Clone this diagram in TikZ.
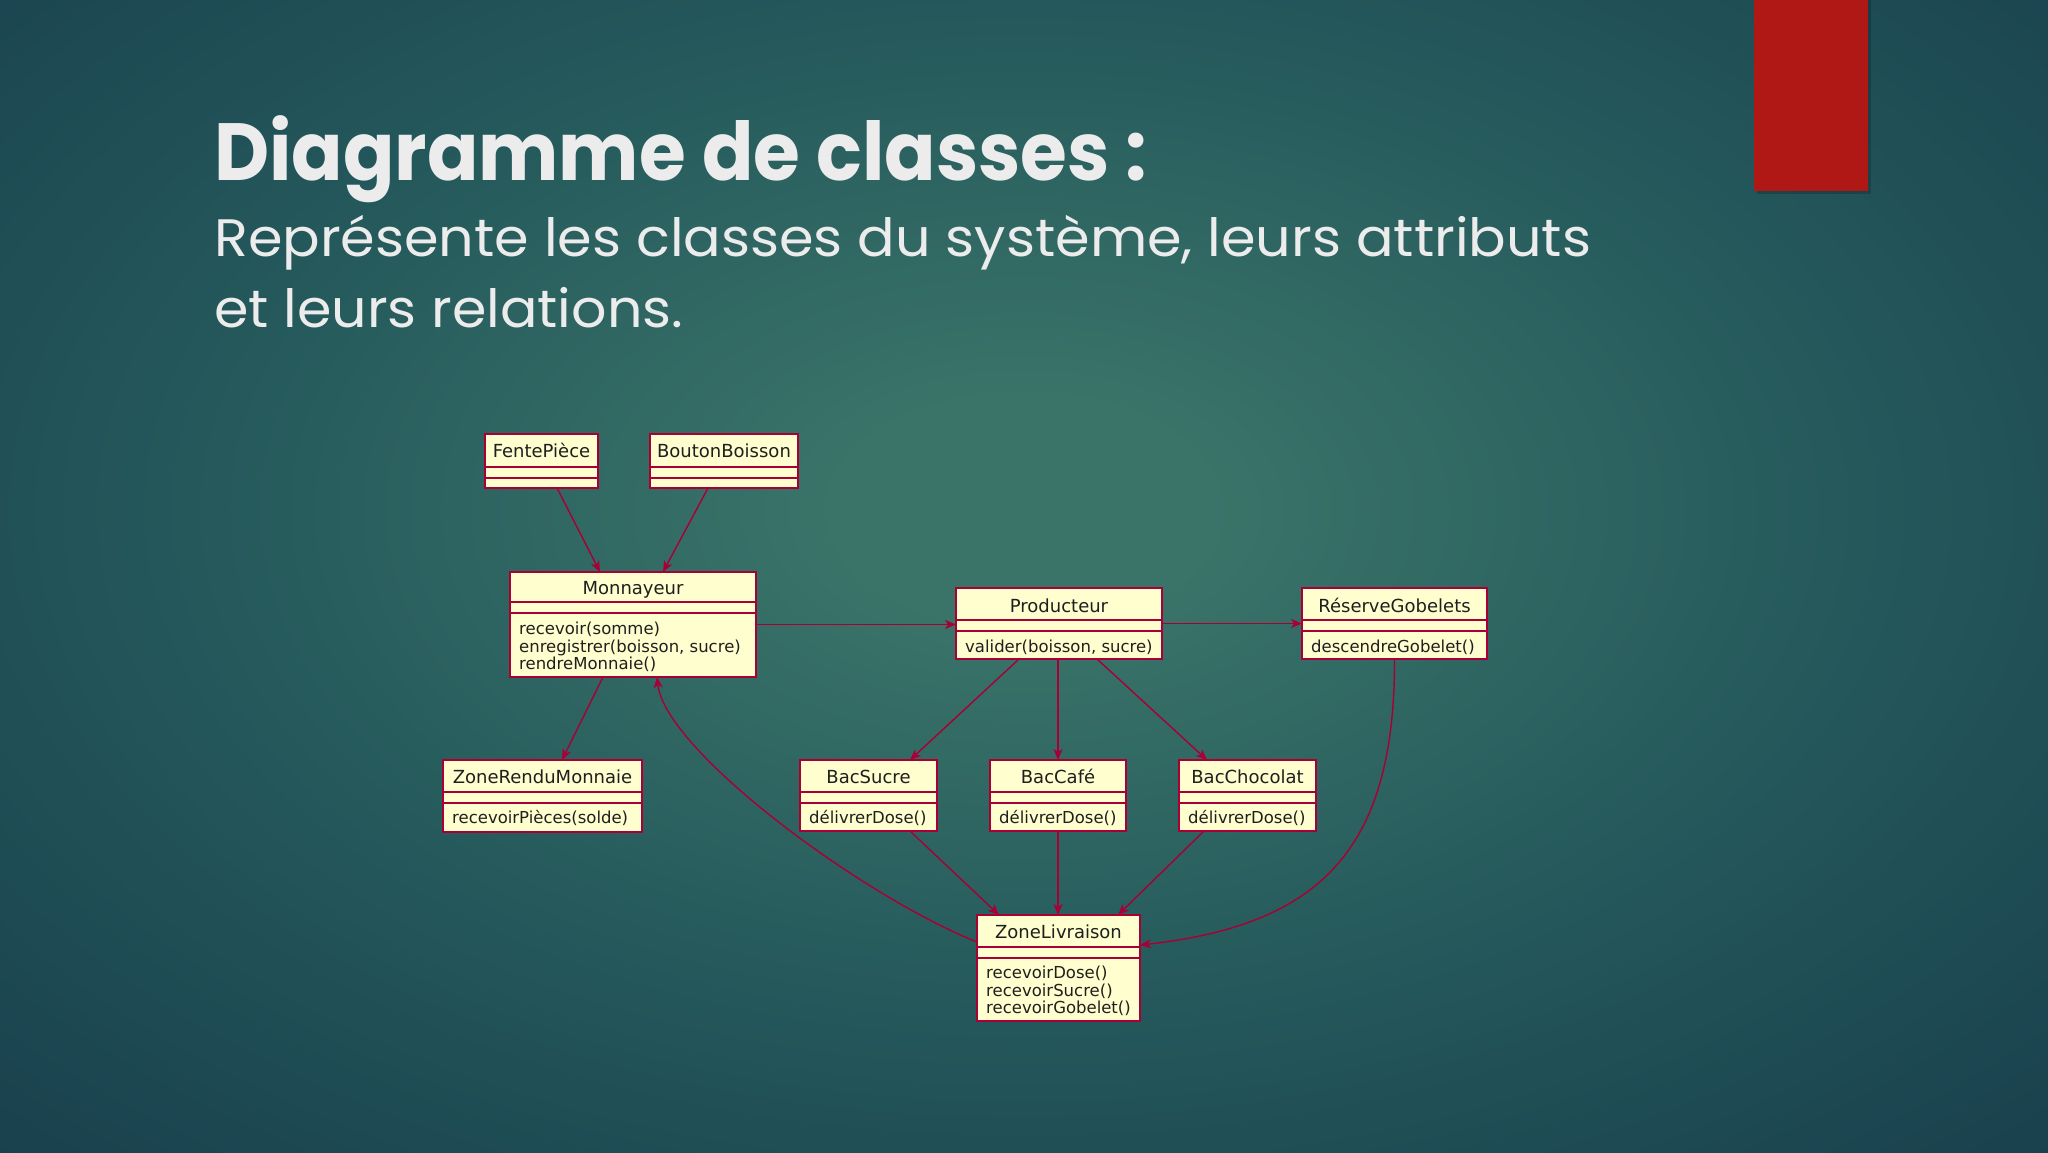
\documentclass[tikz,border=0pt]{standalone}
\usepackage{fontspec}
\usepackage{graphicx}
\usetikzlibrary{arrows.meta}
\newfontfamily\umlfont{DejaVu Sans}
\newfontfamily\slidefont{Poppins}
\definecolor{bgin}{RGB}{58,116,105}
\definecolor{bgmid}{RGB}{36,88,91}
\definecolor{bgout}{RGB}{24,62,76}
\definecolor{bgedge}{RGB}{20,54,68}
\definecolor{umlred}{HTML}{A80036}
\definecolor{umlfill}{HTML}{FEFECE}
\definecolor{slidered}{RGB}{176,24,22}
\definecolor{titlegray}{RGB}{236,236,236}
\pgfdeclareradialshading{slidebg}{\pgfpoint{0bp}{0bp}}{color(0bp)=(bgin); color(4bp)=(bgin); color(19bp)=(bgmid); color(35bp)=(bgout); color(50bp)=(bgedge)}
\newcommand{\umlclass}[8]{%
  \node[classbox, minimum width={(#4-#2)*1pt}, minimum height={(#5-#3)*1pt}] (#1) at ({(#2+#4)/2},{(#3+#5)/2}) {};
  \draw[sepline] (#2,#6) -- (#4,#6);
  \draw[sepline] (#2,#6+11) -- (#4,#6+11);
  \node[classname] (#1-name) at ({(#2+#4)/2},#7) {#8};
}
\begin{document}
\begin{tikzpicture}[x=1pt,y=-1pt,
  classbox/.style={draw=umlred, fill=umlfill, line width=1.4pt, inner sep=0pt, outer sep=0pt, rectangle},
  sepline/.style={draw=umlred, line width=1.4pt},
  classname/.style={anchor=base, inner sep=0pt, font=\umlfont\fontsize{18}{20}\selectfont, text=black!88},
  method/.style={anchor=base west, inner sep=0pt, font=\umlfont\fontsize{16.5}{18}\selectfont, text=black!88},
  assoc/.style={draw=umlred, line width=1.4pt, -{Stealth[length=11pt,width=9pt,inset=3pt]}},
  slidetext/.style={anchor=base west, inner sep=0pt, text=titlegray}]
\useasboundingbox (0,0) rectangle (2048,1152);
\shade[shading=slidebg] (-80,-150) rectangle (2128,1170);
% red tab
\fill[black,opacity=0.18] (1757,0) rectangle (1871,194);
\fill[slidered] (1754,0) rectangle (1868,191);
% titles
\node[slidetext] (title) at (214,180) {\resizebox{933pt}{60pt}{\slidefont\bfseries\fontsize{60}{70}\selectfont\smash{Diagramme de classes :}\vphantom{l}}};
\node[slidetext] (sub1) at (214,256) {\resizebox{1377pt}{39pt}{\slidefont\fontsize{48}{56}\selectfont\smash{Représente les classes du système, leurs attributs}\vphantom{l}}};
\node[slidetext] (sub2) at (214,327) {\resizebox{469pt}{39pt}{\slidefont\fontsize{48}{56}\selectfont\smash{et leurs relations.}\vphantom{l}}};
% classes
\umlclass{fente}{485}{434}{598}{488}{467}{457}{FentePièce}
\umlclass{bouton}{650}{434}{798}{488}{467}{457}{BoutonBoisson}
\umlclass{monn}{510}{572}{756}{677}{602}{594}{Monnayeur}
\node[method] (monn-m1) at (519,634) {recevoir(somme)};
\node[method] (monn-m2) at (519,652) {enregistrer(boisson, sucre)};
\node[method] (monn-m3) at (519,669) {rendreMonnaie()};
\umlclass{prod}{956}{588}{1162}{659}{620}{612}{Producteur}
\node[method] (prod-m1) at (965,652) {valider(boisson, sucre)};
\umlclass{res}{1302}{588}{1487}{659}{620}{612}{RéserveGobelets}
\node[method] (res-m1) at (1311,652) {descendreGobelet()};
\umlclass{zrm}{443}{760}{642}{832}{792}{783}{ZoneRenduMonnaie}
\node[method] (zrm-m1) at (452,823) {recevoirPièces(solde)};
\umlclass{bs}{800}{760}{937}{831}{792}{783}{BacSucre}
\node[method] (bs-m1) at (809,823) {délivrerDose()};
\umlclass{bc}{990}{760}{1126}{831}{792}{783}{BacCafé}
\node[method] (bc-m1) at (999,823) {délivrerDose()};
\umlclass{bch}{1179}{760}{1316}{831}{792}{783}{BacChocolat}
\node[method] (bch-m1) at (1188,823) {délivrerDose()};
\umlclass{zl}{977}{915}{1140}{1021}{947}{938}{ZoneLivraison}
\node[method] (zl-m1) at (986,978) {recevoirDose()};
\node[method] (zl-m2) at (986,996) {recevoirSucre()};
\node[method] (zl-m3) at (986,1013) {recevoirGobelet()};
% connectors
\draw[assoc] ([xshift=15.5pt]fente.south) -- ([xshift=-33pt]monn.north);
\draw[assoc] ([xshift=-16pt]bouton.south) -- ([xshift=30pt]monn.north);
\draw[assoc] (monn.east) -- (monn.east -| prod.west);
\draw[assoc] (prod.east) -- (prod.east -| res.west);
\draw[assoc] ([xshift=-30pt]monn.south) -- ([xshift=19.5pt]zrm.north);
\draw[assoc] ([xshift=-40pt]prod.south) -- ([xshift=41.5pt]bs.north);
\draw[assoc] (bc.north |- prod.south) -- (bc.north);
\draw[assoc] ([xshift=38pt]prod.south) -- ([xshift=-40.5pt]bch.north);
\draw[assoc] ([xshift=41.5pt]bs.south) -- ([xshift=-59.5pt]zl.north);
\draw[assoc] (bc.south) -- (bc.south |- zl.north);
\draw[assoc] ([xshift=-43.5pt]bch.south) -- ([xshift=59.5pt]zl.north);
\draw[assoc] (res.south) .. controls (1395,850) and (1320,925) .. ([yshift=23pt]zl.east);
\draw[assoc] ([yshift=26pt]zl.west) .. controls (860,895) and (665,750) .. ([xshift=24pt]monn.south);
\end{tikzpicture}
\end{document}
